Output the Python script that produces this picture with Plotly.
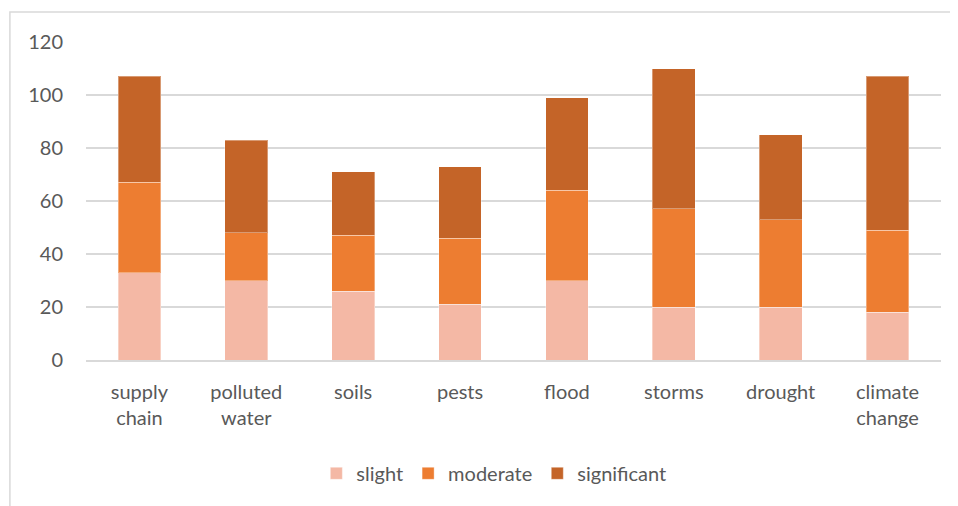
import plotly.graph_objects as go

categories = ["supply<br>chain", "polluted<br>water", "soils", "pests", "flood", "storms", "drought", "climate<br>change"]
slight = [33, 30, 26, 21, 30, 20, 20, 18]
moderate = [34, 18, 21, 25, 34, 37, 33, 31]
significant = [40, 35, 24, 27, 35, 53, 32, 58]
y_ticks = [0, 20, 40, 60, 80, 100, 120]

colors = {"slight": "#F4B8A5", "moderate": "#ED7D31", "significant": "#C46428"}
font_family = "Lato, Open Sans, sans-serif"
text_color = "#595959"

fig = go.Figure()
for name, vals in [("slight", slight), ("moderate", moderate), ("significant", significant)]:
    fig.add_trace(go.Bar(
        x=categories, y=vals, name=name,
        marker=dict(color=colors[name], line=dict(color="rgba(255,255,255,0.35)", width=1)),
    ))

fig.update_layout(
    barmode="stack",
    bargap=0.6,
    width=958, height=506,
    margin=dict(l=78, r=25, t=34, b=154),
    plot_bgcolor="white",
    paper_bgcolor="white",
    font=dict(family=font_family, size=20, color=text_color),
    showlegend=True,
    legend=dict(
        orientation="h", x=0.477, xanchor="center", y=-0.295, yanchor="top",
        font=dict(size=20, color=text_color), traceorder="normal",
        itemwidth=30,
    ),
    yaxis=dict(
        range=[0, 120], tickvals=y_ticks, showgrid=True, gridcolor="#D9D9D9", gridwidth=1.5,
        zeroline=False, showline=False, ticks="", ticklabelstandoff=22,
    ),
    xaxis=dict(
        showline=True, linecolor="#D9D9D9", linewidth=1.5, ticks="", ticklabelstandoff=13,
    ),
    shapes=[dict(type="rect", xref="paper", yref="paper", x0=-0.089, x1=1.05, y0=-0.6, y1=1.094,
                 line=dict(color="#D9D9D9", width=1.5), fillcolor="rgba(0,0,0,0)", layer="below")],
)

fig.write_html("out.html")
